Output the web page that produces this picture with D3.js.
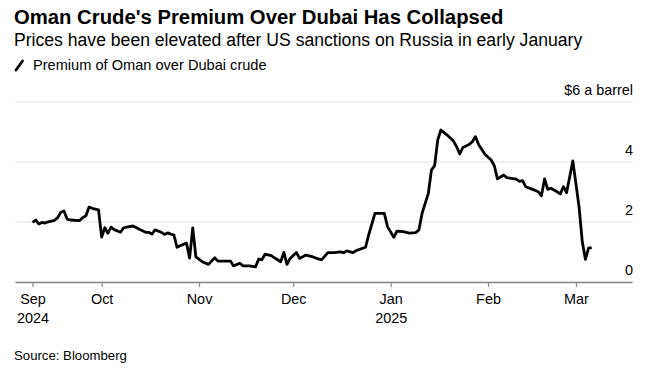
<!DOCTYPE html>
<html>
<head>
<meta charset="utf-8">
<script src="https://cdn.jsdelivr.net/npm/d3@7"></script>
<style>
  body { margin: 0; background: #fff; }
  svg text { font-family: "Liberation Sans", Arial, sans-serif; fill: #000; }
</style>
</head>
<body>
<div id="chart"></div>
<script>
// Premium of Oman over Dubai crude, $ a barrel
let dates = [
    '2024-09-09','2024-09-10','2024-09-11','2024-09-12','2024-09-13','2024-09-14','2024-09-16','2024-09-17',
    '2024-09-18','2024-09-19','2024-09-20','2024-09-21','2024-09-24','2024-09-25','2024-09-26','2024-09-27',
    '2024-09-28','2024-09-30','2024-10-01','2024-10-02','2024-10-03','2024-10-04','2024-10-05','2024-10-07',
    '2024-10-08','2024-10-09','2024-10-11','2024-10-13','2024-10-15','2024-10-16','2024-10-17','2024-10-18',
    '2024-10-20','2024-10-21','2024-10-22','2024-10-23','2024-10-24','2024-10-25','2024-10-26','2024-10-28',
    '2024-10-29','2024-10-30','2024-10-31','2024-11-02','2024-11-04','2024-11-06','2024-11-07','2024-11-09',
    '2024-11-11','2024-11-12','2024-11-14','2024-11-15','2024-11-17','2024-11-19','2024-11-20','2024-11-21',
    '2024-11-22','2024-11-24','2024-11-25','2024-11-27','2024-11-28','2024-11-29','2024-11-30','2024-12-02',
    '2024-12-03','2024-12-05','2024-12-07','2024-12-08','2024-12-10','2024-12-12','2024-12-14','2024-12-16',
    '2024-12-17','2024-12-18','2024-12-20','2024-12-21','2024-12-24','2024-12-25','2024-12-27','2024-12-30',
    '2024-12-31','2025-01-02','2025-01-03','2025-01-05','2025-01-07','2025-01-09','2025-01-10','2025-01-11',
    '2025-01-13','2025-01-14','2025-01-15','2025-01-16','2025-01-17','2025-01-19','2025-01-21','2025-01-22',
    '2025-01-23','2025-01-24','2025-01-26','2025-01-27','2025-01-28','2025-01-29','2025-01-31','2025-02-02',
    '2025-02-03','2025-02-04','2025-02-06','2025-02-07','2025-02-10','2025-02-11','2025-02-12','2025-02-13',
    '2025-02-15','2025-02-17','2025-02-18','2025-02-19','2025-02-20','2025-02-21','2025-02-23','2025-02-24',
    '2025-02-25','2025-02-26','2025-02-28','2025-03-02','2025-03-03','2025-03-04','2025-03-05','2025-03-06'
];
let premium = [
    1.97, 2.05, 1.92, 1.97, 1.95, 1.99, 2.04, 2.13,
    2.31, 2.35, 2.08, 2.05, 2.03, 2.13, 2.19, 2.48,
    2.44, 2.39, 1.48, 1.79, 1.61, 1.81, 1.73, 1.64,
    1.79, 1.81, 1.85, 1.74, 1.64, 1.64, 1.58, 1.72,
    1.64, 1.57, 1.62, 1.58, 1.55, 1.14, 1.19, 1.28,
    0.78, 1.79, 0.82, 0.66, 0.57, 0.79, 0.68, 0.68,
    0.68, 0.52, 0.61, 0.52, 0.52, 0.49, 0.75, 0.72,
    0.91, 0.86, 0.79, 0.66, 0.97, 0.57, 0.77, 0.97,
    0.77, 0.88, 0.83, 0.79, 0.72, 0.96, 0.96, 0.99,
    0.96, 1.02, 0.96, 1.03, 1.14, 1.55, 2.27, 2.27,
    1.83, 1.47, 1.68, 1.66, 1.61, 1.63, 1.72, 2.27,
    2.94, 3.72, 3.86, 4.72, 5.05, 4.88, 4.68, 4.49,
    4.25, 4.47, 4.57, 4.66, 4.83, 4.57, 4.24, 4.05,
    3.86, 3.42, 3.55, 3.46, 3.41, 3.34, 3.36, 3.16,
    3.08, 2.99, 2.86, 3.42, 3.07, 3.11, 2.99, 2.92,
    3.16, 2.96, 4.02, 2.47, 1.33, 0.74, 1.11, 1.13
];

let xDomain = ['2024-09-03T10:00', '2025-03-18T20:00'];
let xTickDates = ['2024-09-09', '2024-10-01', '2024-11-01', '2024-12-01', '2025-01-01', '2025-02-01', '2025-03-01'];
let xTickLabels = [['Sep', '2024'], ['Oct'], ['Nov'], ['Dec'], ['Jan', '2025'], ['Feb'], ['Mar']];
let yTicks = [0, 2, 4, 6];
let yTickLabels = ['0', '2', '4', '$6 a barrel'];

// dimensions
let width = 659;
let height = 371;
let margin = { top: 101.5, right: 633, bottom: 281.5, left: 15 };

let parse = d3.isoParse;
let data = dates.map((d, i) => ({ date: parse(d), value: premium[i] }));

let svg = d3.select('#chart')
    .append('svg')
    .attr('width', width)
    .attr('height', height);

let x = d3.scaleTime()
    .domain(xDomain.map(parse))
    .range([margin.left, 632]);

let y = d3.scaleLinear()
    .domain([0, 6])
    .range([margin.bottom, margin.top]);

// titles
svg.append('text')
    .text("Oman Crude's Premium Over Dubai Has Collapsed")
    .attr('x', 14)
    .attr('y', 24)
    .style('font-size', '20.3px')
    .style('font-weight', 'bold');

svg.append('text')
    .text('Prices have been elevated after US sanctions on Russia in early January')
    .attr('x', 14)
    .attr('y', 46)
    .style('font-size', '17.6px');

// legend
svg.append('line')
    .attr('x1', 16).attr('y1', 70)
    .attr('x2', 22.5).attr('y2', 61)
    .attr('stroke', '#000')
    .attr('stroke-width', 2.8)
    .attr('stroke-linecap', 'round');

svg.append('text')
    .text('Premium of Oman over Dubai crude')
    .attr('x', 33)
    .attr('y', 70)
    .style('font-size', '14.6px');

// gridlines + right labels
let yAxis = svg.append('g')
    .attr('transform', `translate(${margin.right},0)`)
    .call(d3.axisRight(y)
        .tickValues(yTicks)
        .tickSize(-(margin.right - margin.left))
        .tickFormat((d, i) => yTickLabels[i]));

yAxis.select('.domain').remove();
yAxis.selectAll('.tick line')
    .attr('stroke', '#e3e3e3')
    .attr('stroke-width', 1.2);
yAxis.selectAll('.tick text')
    .attr('x', 0)
    .attr('dy', -7)
    .attr('text-anchor', 'end')
    .style('font-size', '14.4px')
    .style('font-family', '"Liberation Sans", Arial, sans-serif');

// x axis
let xAxis = svg.append('g')
    .attr('transform', `translate(0,282)`)
    .call(d3.axisBottom(x)
        .tickValues(xTickDates.map(parse))
        .tickSize(5)
        .tickSizeOuter(0)
        .tickFormat(''));

xAxis.select('.domain')
    .attr('stroke', '#888')
    .attr('stroke-width', 1.5);
xAxis.selectAll('.tick line')
    .attr('stroke', '#888')
    .attr('stroke-width', 1.2);

xAxis.selectAll('.tick').each(function (d, i) {
    let t = d3.select(this).append('text')
        .attr('text-anchor', 'middle')
        .attr('y', 22)
        .style('font-size', '14.4px')
        .style('font-family', '"Liberation Sans", Arial, sans-serif')
        .attr('fill', '#000');
    xTickLabels[i].forEach((s, j) => {
        t.append('tspan')
            .attr('x', 0)
            .attr('dy', j === 0 ? 0 : 19)
            .text(s);
    });
});

// line
let line = d3.line()
    .x(d => x(d.date))
    .y(d => y(d.value));

svg.append('path')
    .datum(data)
    .attr('d', line)
    .attr('fill', 'none')
    .attr('stroke', '#000')
    .attr('stroke-width', 2.8)
    .attr('stroke-linejoin', 'round');

// source
svg.append('text')
    .text('Source: Bloomberg')
    .attr('x', 14)
    .attr('y', 360)
    .style('font-size', '13.2px');
</script>
</body>
</html>
